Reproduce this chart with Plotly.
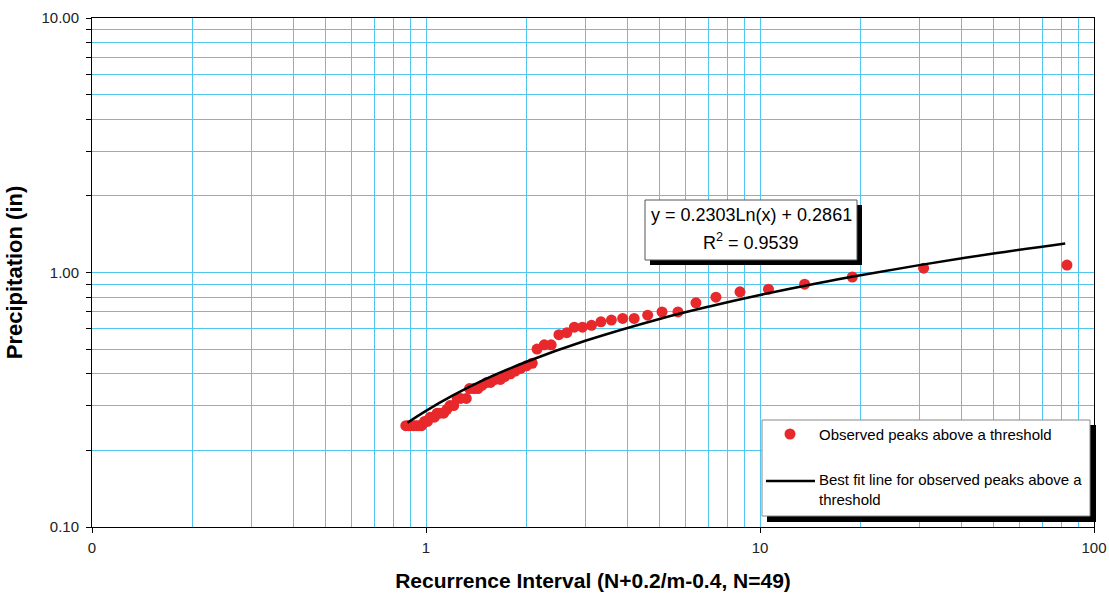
import plotly.graph_objects as go

# ---------------- data ----------------
recurrence_interval = [0.87, 0.885, 0.90, 0.92, 0.935, 0.95, 0.97, 0.99, 1.01, 1.03,
                       1.06, 1.08, 1.10, 1.13, 1.155, 1.18, 1.21, 1.24, 1.27, 1.32,
                       1.35, 1.39, 1.43, 1.47, 1.52, 1.56, 1.61, 1.67, 1.72, 1.79,
                       1.85, 1.92, 2.00, 2.08, 2.15, 2.26, 2.37, 2.50, 2.64, 2.78,
                       2.94, 3.13, 3.34, 3.59, 3.88, 4.20, 4.61, 5.09, 5.68, 6.43,
                       7.38, 8.71, 10.6, 13.6, 18.9, 30.9, 83.0]
precipitation = [0.25, 0.25, 0.25, 0.25, 0.25, 0.25, 0.25, 0.26, 0.26, 0.27,
                 0.27, 0.28, 0.28, 0.28, 0.29, 0.30, 0.30, 0.32, 0.32, 0.32,
                 0.35, 0.35, 0.35, 0.36, 0.37, 0.37, 0.38, 0.38, 0.39, 0.40,
                 0.41, 0.42, 0.43, 0.44, 0.50, 0.52, 0.52, 0.57, 0.58, 0.61,
                 0.61, 0.62, 0.64, 0.65, 0.66, 0.66, 0.68, 0.70, 0.70, 0.76,
                 0.80, 0.84, 0.86, 0.90, 0.96, 1.04, 1.07]

# best-fit curve
fit_x = [0.88, 1.0, 1.2, 1.5, 2.0, 3.0, 5.0, 7.0, 10.0, 15.0, 20.0, 30.0, 50.0, 82.0]
fit_y = [0.257, 0.286, 0.328, 0.380, 0.446, 0.539, 0.657, 0.734, 0.816, 0.910,
         0.976, 1.069, 1.187, 1.301]

x_tick_vals = [0.1, 1, 10, 100]
x_tick_text = ["0", "1", "10", "100"]
x_minor_vals = [0.2, 0.3, 0.4, 0.5, 0.6, 0.7, 0.8, 0.9,
                2, 3, 4, 5, 6, 7, 8, 9,
                20, 30, 40, 50, 60, 70, 80, 90]
y_tick_vals = [0.1, 1, 10]
y_tick_text = ["0.10", "1.00", "10.00"]
y_minor_vals = [0.2, 0.3, 0.4, 0.5, 0.6, 0.7, 0.8, 0.9,
                2, 3, 4, 5, 6, 7, 8, 9]

legend_labels = ["Observed peaks above a threshold",
                 "Best fit line for observed peaks above a<br>threshold"]
equation_text = "y = 0.2303Ln(x) + 0.2861"
r2_text = "R<sup>2</sup> = 0.9539"

# ---------------- layout geometry ----------------
W, H = 1109, 594
L, R, T, B = 92, 1094, 18, 527
FONT = "Arial, Liberation Sans, Helvetica, sans-serif"
GRID = "rgb(80,198,240)"
RED = "#E8282B"


def px(x):
    return (x - L) / (R - L)


def py(y):
    return (B - y) / (B - T)


fig = go.Figure()
fig.add_trace(go.Scatter(x=recurrence_interval, y=precipitation, mode="markers",
                         name=legend_labels[0],
                         marker=dict(color=RED, size=11, line=dict(width=0)),
                         showlegend=False))
fig.add_trace(go.Scatter(x=fit_x, y=fit_y, mode="lines", name=legend_labels[1],
                         line=dict(color="black", width=2.5, shape="spline"),
                         showlegend=False))

shapes = []
# equation box with shadow
shapes.append(dict(type="rect", xref="paper", yref="paper", layer="above",
                   x0=px(650), x1=px(862), y0=py(265), y1=py(205),
                   fillcolor="black", line=dict(width=0)))
shapes.append(dict(type="rect", xref="paper", yref="paper", layer="above",
                   x0=px(645), x1=px(857), y0=py(260), y1=py(200),
                   fillcolor="white", line=dict(color="#555555", width=1)))
# legend box with shadow
shapes.append(dict(type="rect", xref="paper", yref="paper", layer="above",
                   x0=px(767), x1=px(1096), y0=py(522), y1=py(425),
                   fillcolor="black", line=dict(width=0)))
shapes.append(dict(type="rect", xref="paper", yref="paper", layer="above",
                   x0=px(762), x1=px(1090), y0=py(516), y1=py(420),
                   fillcolor="white", line=dict(color="#888888", width=1)))
# legend symbols
shapes.append(dict(type="circle", xref="paper", yref="paper", layer="above",
                   x0=px(784.5), x1=px(795.5), y0=py(439.5), y1=py(428.5),
                   fillcolor=RED, line=dict(width=0)))
shapes.append(dict(type="line", xref="paper", yref="paper", layer="above",
                   x0=px(766), x1=px(815), y0=py(481), y1=py(481),
                   line=dict(color="black", width=2.5)))

annotations = [
    dict(xref="paper", yref="paper", x=px(751), y=py(215), text=equation_text,
         showarrow=False, xanchor="center", yanchor="middle",
         font=dict(family=FONT, size=18, color="black")),
    dict(xref="paper", yref="paper", x=px(751), y=py(242), text=r2_text,
         showarrow=False, xanchor="center", yanchor="middle",
         font=dict(family=FONT, size=18, color="black")),
    dict(xref="paper", yref="paper", x=px(817), y=py(434), text=legend_labels[0],
         showarrow=False, xanchor="left", yanchor="middle",
         font=dict(family=FONT, size=15, color="black")),
    dict(xref="paper", yref="paper", x=px(817), y=py(489), text=legend_labels[1],
         showarrow=False, xanchor="left", yanchor="middle", align="left",
         font=dict(family=FONT, size=15, color="black")),
]

fig.update_layout(
    width=W, height=H,
    margin=dict(l=L, r=W - R, t=T, b=H - B, pad=0, autoexpand=False),
    paper_bgcolor="white", plot_bgcolor="white",
    font=dict(family=FONT, color="#222222"),
    shapes=shapes, annotations=annotations,
    showlegend=False,
)
fig.update_xaxes(
    type="log", range=[-1, 2], autorange=False, automargin=False,
    tickvals=x_tick_vals, ticktext=x_tick_text,
    ticks="outside", ticklen=5, tickcolor="black", tickwidth=1,
    tickfont=dict(family=FONT, size=15, color="#222222"),
    ticklabelstandoff=2,
    showgrid=True, gridcolor=GRID, gridwidth=1,
    minor=dict(tickvals=x_minor_vals, showgrid=True, gridcolor=GRID, gridwidth=1, ticks=""),
    showline=True, linecolor="black", linewidth=1, mirror=True,
    zeroline=False,
    title=dict(text="<b>Recurrence Interval (N+0.2/m-0.4, N=49)</b>", standoff=18,
               font=dict(family=FONT, size=21, color="black")),
)
fig.update_yaxes(
    type="log", range=[-1, 1], autorange=False, automargin=False,
    tickvals=y_tick_vals, ticktext=y_tick_text,
    ticks="outside", ticklen=5, tickcolor="black", tickwidth=1,
    tickfont=dict(family=FONT, size=15, color="#222222"),
    ticklabelstandoff=4,
    showgrid=True, gridcolor=GRID, gridwidth=1,
    minor=dict(tickvals=y_minor_vals, showgrid=True, gridcolor=GRID, gridwidth=1,
               ticks="outside", ticklen=5, tickcolor="black", tickwidth=1),
    showline=True, linecolor="black", linewidth=1, mirror=True,
    zeroline=False,
    title=dict(text="<b>Precipitation (in)</b>", standoff=12,
               font=dict(family=FONT, size=22, color="black")),
)

fig.write_html("out.html")
